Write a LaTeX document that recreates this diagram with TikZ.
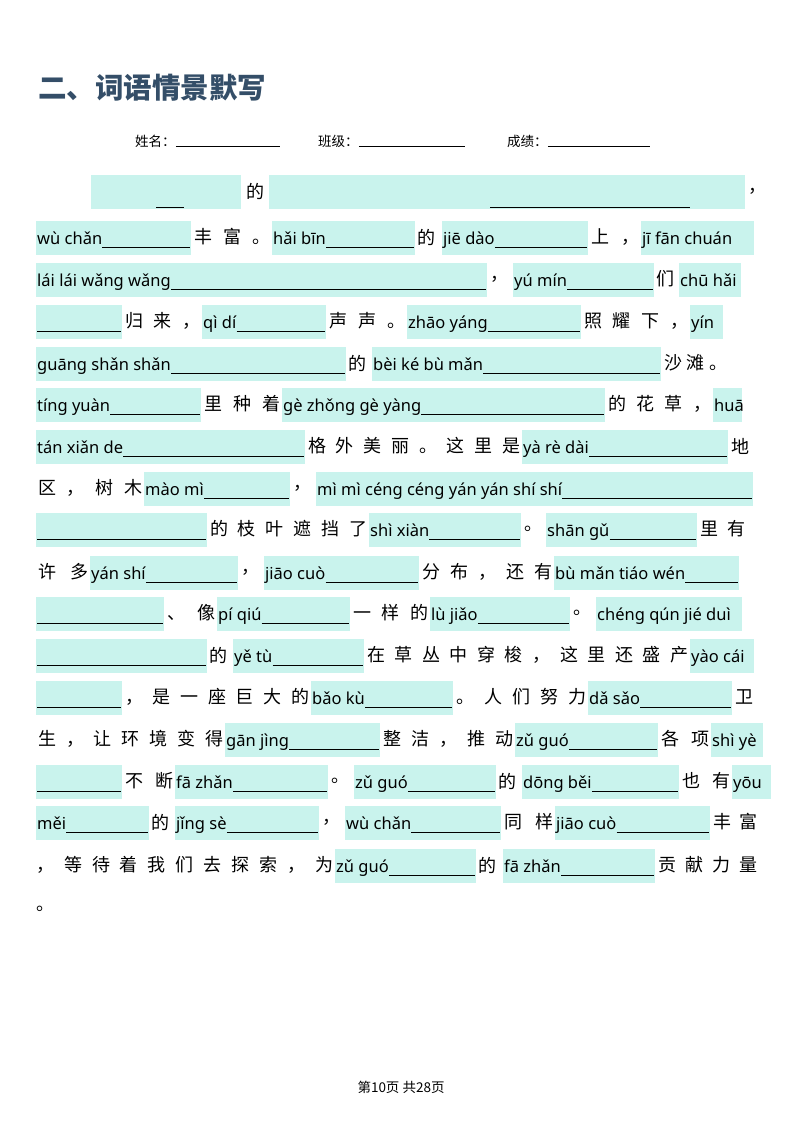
\documentclass[tikz,border=0pt]{standalone}
\usepackage{fontspec}
\setmainfont{Noto Sans}
\newfontfamily\cjk{Noto Sans CJK SC}
\newfontfamily\pyf{Noto Sans}
\definecolor{boxc}{RGB}{201,243,237}
\definecolor{titc}{RGB}{52,78,104}
\tikzset{
  py/.style={anchor=base west,inner sep=0pt,font=\pyf\fontsize{16.5}{18}\selectfont,text=black},
  cj/.style={anchor=west,inner sep=0pt,font=\cjk\fontsize{18}{20}\selectfont,text=black},
  uline/.style={line width=0.7pt,black}
}
% pinyin box with underline
\newcommand\pb[4]{%
  \fill[boxc] (#1,#3-17) rectangle (#2,#3+17);
  \node[py] (p) at (#1+1,#3+6) {#4};
  \coordinate (e) at (#2-1,#3+9);
  \draw[uline] ([yshift=-3pt]p.base east) -- ([yshift=-3pt]p.base east -| e);}
% pinyin box without underline
\newcommand\pbn[4]{%
  \fill[boxc] (#1,#3-17) rectangle (#2,#3+17);
  \node[py] (p) at (#1+1,#3+6) {#4};}
% blank box
\newcommand\bl[3]{%
  \fill[boxc] (#1,#3-17) rectangle (#2,#3+17);
  \coordinate (a) at (#1+1,#3+9);
  \coordinate (e) at (#2-1,#3+9);
  \draw[uline] (a) -- (e);}
% chinese run spread
\newcommand\cj[4]{%
  \node[cj] (c) at (#1,#3-1) {\makebox[\dimexpr #2pt-#1pt\relax][s]{#4}};}
\begin{document}
\begin{tikzpicture}[x=1pt,y=-1pt]
\useasboundingbox[fill=white] (0,0) rectangle (800,1132);
\node[anchor=west,inner sep=0,text=titc,font=\cjk\bfseries\fontsize{28.5}{31}\selectfont] (title) at (38,88) {二、词语情景默写};
% header
\node[anchor=base west,inner sep=0,font=\cjk\fontsize{13.5}{15}\selectfont] (h1) at (135,146) {姓名：};
\coordinate (h1e) at (280,147);
\draw[line width=0.5pt] (h1.base east) -- (h1.base east -| h1e);
\node[anchor=base west,inner sep=0,font=\cjk\fontsize{13.5}{15}\selectfont] (h2) at (318,146) {班级：};
\coordinate (h2e) at (465,147);
\draw[line width=0.5pt] (h2.base east) -- (h2.base east -| h2e);
\node[anchor=base west,inner sep=0,font=\cjk\fontsize{13.5}{15}\selectfont] (h3) at (507,146) {成绩：};
\coordinate (h3e) at (650,147);
\draw[line width=0.5pt] (h3.base east) -- (h3.base east -| h3e);
% row1
\fill[boxc] (91,175) rectangle (241,209);
\coordinate (u1a) at (156,207); \coordinate (u1b) at (184,207);
\draw[uline] (u1a) -- (u1b);
\cj{246}{266}{192}{的}
\fill[boxc] (269,175) rectangle (745,209);
\coordinate (u2a) at (490,207); \coordinate (u2b) at (690,207);
\draw[uline] (u2a) -- (u2b);
\cj{748}{766}{192}{，}
% row2
\pb{36}{191}{238}{wù chǎn}
\cj{194}{270}{238}{丰 富 。}
\pb{272}{415}{238}{hǎi bīn}
\cj{417}{440}{238}{的}
\pb{442}{588}{238}{jiē dào}
\cj{591}{639}{238}{上 ，}
\pbn{641}{754}{238}{jī fān chuán}
% row3
\pb{36}{487}{280}{lái lái wǎng wǎng}
\cj{490}{511}{280}{，}
\pb{513}{654}{280}{yú mín}
\cj{656}{677}{280}{们}
\pbn{679}{741}{280}{chū hǎi}
% row4
\bl{36}{122}{322}
\cj{125}{200}{322}{归 来 ，}
\pb{202}{326}{322}{qì dí}
\cj{329}{405}{322}{声 声 。}
\pb{407}{581}{322}{zhāo yáng}
\cj{584}{688}{322}{照 耀 下 ，}
\pbn{690}{723}{322}{yín}
% row5
\pb{36}{346}{364}{guāng shǎn shǎn}
\cj{348}{370}{364}{的}
\pb{372}{661}{364}{bèi ké bù mǎn}
\cj{664}{727}{364}{沙 滩 。}
% row6
\pb{36}{201}{405}{tíng yuàn}
\cj{204}{280}{405}{里 种 着}
\pb{282}{605}{405}{gè zhǒng gè yàng}
\cj{608}{711}{405}{的 花 草 ，}
\pbn{713}{742}{405}{huā}
% row7
\pb{36}{305}{447}{tán xiǎn de}
\cj{308}{520}{447}{格 外 美 丽 。 这 里 是}
\pb{522}{728}{447}{yà rè dài}
\cj{731}{752}{447}{地}
% row8
\cj{38}{142}{489}{区 ， 树 木}
\pb{144}{290}{489}{mào mì}
\cj{293}{314}{489}{，}
\pb{316}{753}{489}{mì mì céng céng yán yán shí shí}
% row9
\bl{36}{207}{530}
\cj{210}{367}{530}{的 枝 叶 遮 挡 了}
\pb{369}{521}{530}{shì xiàn}
\cj{524}{544}{530}{。}
\pb{546}{697}{530}{shān gǔ}
\cj{700}{745}{530}{里 有}
% row10
\cj{38}{88}{573}{许 多}
\pb{90}{238}{573}{yán shí}
\cj{241}{262}{573}{，}
\pb{264}{419}{573}{jiāo cuò}
\cj{422}{552}{573}{分 布 ， 还 有}
\pb{554}{739}{573}{bù mǎn tiáo wén}
% row11
\bl{36}{164}{614}
\cj{167}{215}{614}{、 像}
\pb{217}{350}{614}{pí qiú}
\cj{353}{428}{614}{一 样 的}
\pb{430}{570}{614}{lù jiǎo}
\cj{573}{594}{614}{。}
\pbn{596}{742}{614}{chéng qún jié duì}
% row12
\bl{36}{207}{656}
\cj{209}{231}{656}{的}
\pb{233}{364}{656}{yě tù}
\cj{367}{688}{656}{在 草 丛 中 穿 梭 ， 这 里 还 盛 产}
\pbn{690}{754}{656}{yào cái}
% row13
\bl{36}{122}{698}
\cj{125}{309}{698}{， 是 一 座 巨 大 的}
\pb{311}{453}{698}{bǎo kù}
\cj{456}{586}{698}{。 人 们 努 力}
\pb{588}{732}{698}{dǎ sǎo}
\cj{735}{755}{698}{卫}
% row14
\cj{38}{223}{740}{生 ， 让 环 境 变 得}
\pb{225}{380}{740}{gān jìng}
\cj{383}{513}{740}{整 洁 ， 推 动}
\pb{515}{658}{740}{zǔ guó}
\cj{661}{709}{740}{各 项}
\pbn{711}{763}{740}{shì yè}
% row15
\bl{36}{122}{782}
\cj{125}{173}{782}{不 断}
\pb{175}{328}{782}{fā zhǎn}
\cj{331}{352}{782}{。}
\pb{354}{496}{782}{zǔ guó}
\cj{498}{520}{782}{的}
\pb{522}{679}{782}{dōng běi}
\cj{682}{730}{782}{也 有}
\pbn{732}{771}{782}{yōu}
% row16
\pb{36}{149}{823}{měi}
\cj{151}{173}{823}{的}
\pb{175}{319}{823}{jǐng sè}
\cj{322}{343}{823}{，}
\pb{345}{501}{823}{wù chǎn}
\cj{504}{553}{823}{同 样}
\pb{555}{710}{823}{jiāo cuò}
\cj{713}{757}{823}{丰 富}
% row17
\cj{36}{333}{866}{， 等 待 着 我 们 去 探 索 ， 为}
\pb{335}{476}{866}{zǔ guó}
\cj{478}{501}{866}{的}
\pb{503}{655}{866}{fā zhǎn}
\cj{658}{757}{866}{贡 献 力 量}
% row18
\cj{36}{60}{910}{。}
% footer
\node[inner sep=0,font=\cjk\fontsize{13.5}{15}\selectfont] (foot) at (401,1087) {第10页 共28页};
\end{tikzpicture}
\end{document}
